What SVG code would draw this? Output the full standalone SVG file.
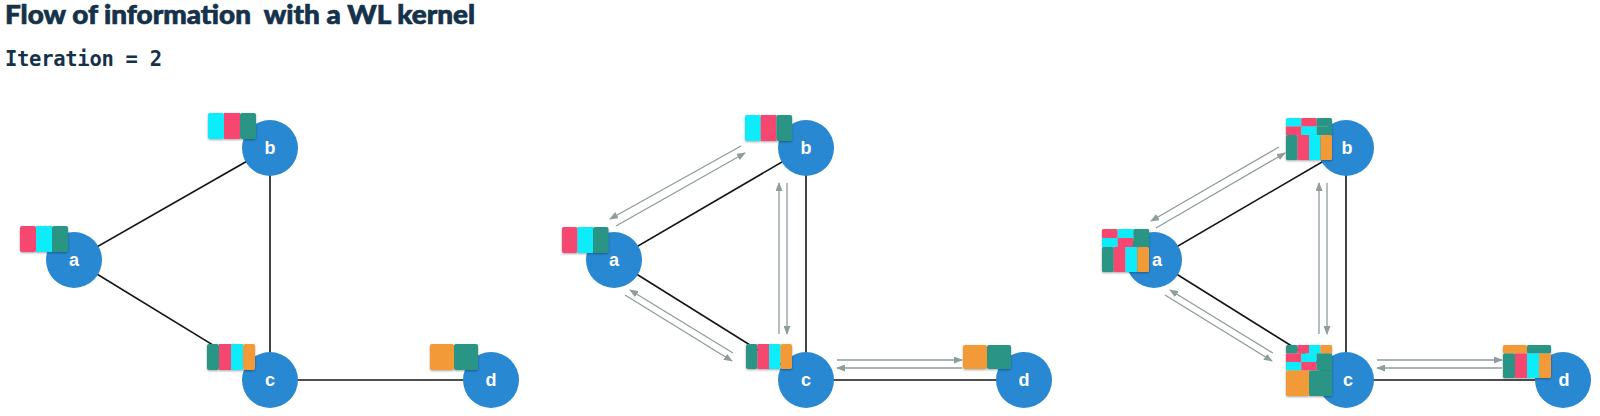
<svg xmlns="http://www.w3.org/2000/svg" width="1600" height="416" viewBox="0 0 1600 416">
<style>
.title{font-family:"Lato","Liberation Sans",sans-serif;font-weight:900;font-size:27px;fill:#15324a;stroke:#15324a;stroke-width:0.7;white-space:pre}
.iter{font-family:"DejaVu Sans Mono","Liberation Mono",monospace;font-weight:bold;font-size:20.5px;fill:#15324a;white-space:pre}
.node{fill:#2888d2}
.nl{font-family:"Liberation Sans",Arial,sans-serif;font-weight:bold;font-size:18px;fill:#fff;text-anchor:middle}
.edge{stroke:#151515;stroke-width:1.6;fill:none}
.arr{stroke:#8d9d9c;stroke-width:1.3;fill:none;marker-end:url(#ah)}
.cy{fill:#08ecfa}.pk{fill:#f6466f}.tl{fill:#299584}.or{fill:#f39a37}
.lab{filter:url(#sh)}
</style>
<defs>
<marker id="ah" markerUnits="userSpaceOnUse" markerWidth="9" markerHeight="7" refX="8" refY="3.5" orient="auto">
<path d="M0,0 L9,3.5 L0,7 z" fill="#8d9d9c"/>
</marker>
<filter id="sh" x="-20%" y="-20%" width="140%" height="150%">
<feDropShadow dx="0" dy="1" stdDeviation="1" flood-color="#000" flood-opacity="0.35"/>
</filter>
</defs>
<text class="title" x="5" y="24" textLength="470" lengthAdjust="spacingAndGlyphs" xml:space="preserve">Flow of information  with a WL kernel</text>
<text class="iter" x="5" y="66" textLength="157" xml:space="preserve">Iteration = 2</text>
<g id="connectors">
<line class="edge" x1="74" y1="260" x2="270" y2="148"/>
<line class="edge" x1="74" y1="260" x2="270" y2="380"/>
<line class="edge" x1="270" y1="148" x2="270" y2="380"/>
<line class="edge" x1="270" y1="380" x2="491" y2="380"/>
<line class="edge" x1="614" y1="260" x2="806" y2="148"/>
<line class="edge" x1="614" y1="260" x2="806" y2="380"/>
<line class="edge" x1="806" y1="148" x2="806" y2="380"/>
<line class="edge" x1="806" y1="380" x2="1024" y2="380"/>
<line class="edge" x1="1154" y1="260" x2="1346" y2="148"/>
<line class="edge" x1="1154" y1="260" x2="1346" y2="380"/>
<line class="edge" x1="1346" y1="148" x2="1346" y2="380"/>
<line class="edge" x1="1346" y1="380" x2="1563" y2="380"/>
<line class="arr" x1="741" y1="146" x2="610" y2="219"/>
<line class="arr" x1="616" y1="226" x2="745" y2="153"/>
<line class="arr" x1="779" y1="334" x2="779" y2="183"/>
<line class="arr" x1="787" y1="183" x2="787" y2="334"/>
<line class="arr" x1="837" y1="360" x2="962" y2="360"/>
<line class="arr" x1="962" y1="368" x2="837" y2="368"/>
<line class="arr" x1="733" y1="353" x2="630" y2="290"/>
<line class="arr" x1="625" y1="295" x2="732" y2="361"/>
<line class="arr" x1="1279" y1="147" x2="1151" y2="221"/>
<line class="arr" x1="1156" y1="228" x2="1285" y2="153"/>
<line class="arr" x1="1319" y1="334" x2="1319" y2="183"/>
<line class="arr" x1="1327" y1="183" x2="1327" y2="334"/>
<line class="arr" x1="1377" y1="360" x2="1502" y2="360"/>
<line class="arr" x1="1502" y1="368" x2="1377" y2="368"/>
<line class="arr" x1="1273" y1="353" x2="1170" y2="290"/>
<line class="arr" x1="1165" y1="295" x2="1272" y2="361"/>
</g>
<!-- Panel 1 -->
<g id="node-a1">
<circle class="node" cx="74" cy="260" r="28"/>
<g class="lab"><rect class="pk" x="20" y="226" width="16" height="26" rx="2"/><rect class="cy" x="36" y="226" width="16" height="26"/><rect class="tl" x="52" y="226" width="16" height="26" rx="2"/></g>
<text class="nl" x="74" y="266">a</text>
</g>
<g id="node-b1">
<circle class="node" cx="270" cy="148" r="28"/>
<g class="lab"><rect class="cy" x="208" y="113" width="16" height="26" rx="2"/><rect class="pk" x="224" y="113" width="16" height="26"/><rect class="tl" x="240" y="113" width="16" height="26" rx="2"/></g>
<text class="nl" x="270" y="154">b</text>
</g>
<g id="node-c1">
<circle class="node" cx="270" cy="380" r="28"/>
<g class="lab"><rect class="tl" x="207" y="344" width="12" height="26" rx="2"/><rect class="pk" x="219" y="344" width="12" height="26"/><rect class="cy" x="231" y="344" width="12" height="26"/><rect class="or" x="243" y="344" width="12" height="26" rx="2"/></g>
<text class="nl" x="270" y="386">c</text>
</g>
<g id="node-d1">
<circle class="node" cx="491" cy="380" r="28"/>
<g class="lab"><rect class="or" x="430" y="344" width="24" height="26" rx="2"/><rect class="tl" x="454" y="344" width="24" height="26" rx="2"/></g>
<text class="nl" x="491" y="386">d</text>
</g>
<!-- Panel 2 -->
<g id="node-a2">
<circle class="node" cx="614" cy="260" r="28"/>
<g class="lab"><rect class="pk" x="562" y="227" width="15.5" height="26" rx="2"/><rect class="cy" x="577.5" y="227" width="15.5" height="26"/><rect class="tl" x="593" y="227" width="15.5" height="26" rx="2"/></g>
<text class="nl" x="614" y="266">a</text>
</g>
<g id="node-b2">
<circle class="node" cx="806" cy="148" r="28"/>
<g class="lab"><rect class="cy" x="745" y="115" width="15.7" height="26" rx="2"/><rect class="pk" x="760.7" y="115" width="15.7" height="26"/><rect class="tl" x="776.4" y="115" width="15.7" height="26" rx="2"/></g>
<text class="nl" x="806" y="154">b</text>
</g>
<g id="node-c2">
<circle class="node" cx="806" cy="380" r="28"/>
<g class="lab"><rect class="tl" x="746" y="344" width="11.5" height="25" rx="2"/><rect class="pk" x="757.5" y="344" width="11.5" height="25"/><rect class="cy" x="769" y="344" width="11.5" height="25"/><rect class="or" x="780.5" y="344" width="11.5" height="25" rx="2"/></g>
<text class="nl" x="806" y="386">c</text>
</g>
<g id="node-d2">
<circle class="node" cx="1024" cy="380" r="28"/>
<g class="lab"><rect class="or" x="963" y="345" width="24" height="24" rx="2"/><rect class="tl" x="987" y="345" width="24" height="24" rx="2"/></g>
<text class="nl" x="1024" y="386">d</text>
</g>
<!-- Panel 3 -->
<g id="node-a3">
<circle class="node" cx="1154" cy="260" r="28"/>
<g class="lab">
<rect class="pk" x="1102" y="229" width="15.7" height="9" rx="1.5"/><rect class="cy" x="1117.7" y="229" width="15.7" height="9"/><rect class="tl" x="1133.4" y="229" width="15.7" height="9" rx="1.5"/>
<rect class="cy" x="1102" y="238" width="15.7" height="9"/><rect class="pk" x="1117.7" y="238" width="15.7" height="9"/><rect class="tl" x="1133.4" y="238" width="15.7" height="9"/>
<rect class="tl" x="1102" y="247" width="11.75" height="25" rx="1.5"/><rect class="pk" x="1113.75" y="247" width="11.75" height="25"/><rect class="cy" x="1125.5" y="247" width="11.75" height="25"/><rect class="or" x="1137.25" y="247" width="11.75" height="25" rx="1.5"/>
</g>
<text class="nl" x="1157" y="266">a</text>
</g>
<g id="node-b3">
<circle class="node" cx="1346" cy="148" r="28"/>
<g class="lab">
<rect class="cy" x="1286" y="118" width="15.33" height="8.5" rx="1.5"/><rect class="pk" x="1301.33" y="118" width="15.33" height="8.5"/><rect class="tl" x="1316.66" y="118" width="15.34" height="8.5" rx="1.5"/>
<rect class="pk" x="1286" y="126.5" width="15.33" height="8.5"/><rect class="cy" x="1301.33" y="126.5" width="15.33" height="8.5"/><rect class="tl" x="1316.66" y="126.5" width="15.34" height="8.5"/>
<rect class="tl" x="1286" y="135" width="11.5" height="25" rx="1.5"/><rect class="pk" x="1297.5" y="135" width="11.5" height="25"/><rect class="cy" x="1309" y="135" width="11.5" height="25"/><rect class="or" x="1320.5" y="135" width="11.5" height="25" rx="1.5"/>
</g>
<text class="nl" x="1347" y="154">b</text>
</g>
<g id="node-c3">
<circle class="node" cx="1346" cy="380" r="28"/>
<g class="lab">
<rect class="tl" x="1286" y="345" width="11.5" height="8.5" rx="1.5"/><rect class="pk" x="1297.5" y="345" width="11.5" height="8.5"/><rect class="cy" x="1309" y="345" width="11.5" height="8.5"/><rect class="or" x="1320.5" y="345" width="11.5" height="8.5" rx="1.5"/>
<rect class="pk" x="1286" y="353.5" width="15.33" height="8.5"/><rect class="cy" x="1301.33" y="353.5" width="15.33" height="8.5"/><rect class="tl" x="1316.66" y="353.5" width="15.34" height="8.5"/>
<rect class="cy" x="1286" y="362" width="15.33" height="8.5"/><rect class="pk" x="1301.33" y="362" width="15.33" height="8.5"/><rect class="tl" x="1316.66" y="362" width="15.34" height="8.5"/>
<rect class="or" x="1286" y="370.5" width="23" height="25.5" rx="1.5"/><rect class="tl" x="1309" y="370.5" width="23" height="25.5" rx="1.5"/>
</g>
<text class="nl" x="1348" y="386">c</text>
</g>
<g id="node-d3">
<circle class="node" cx="1563" cy="380" r="28"/>
<g class="lab">
<rect class="or" x="1503" y="345" width="24" height="8.5" rx="1.5"/><rect class="tl" x="1527" y="345" width="24" height="8.5" rx="1.5"/>
<rect class="tl" x="1503" y="353.5" width="12" height="24.5" rx="1.5"/><rect class="pk" x="1515" y="353.5" width="12" height="24.5"/><rect class="cy" x="1527" y="353.5" width="12" height="24.5"/><rect class="or" x="1539" y="353.5" width="12" height="24.5" rx="1.5"/>
</g>
<text class="nl" x="1564" y="386">d</text>
</g>
</svg>
